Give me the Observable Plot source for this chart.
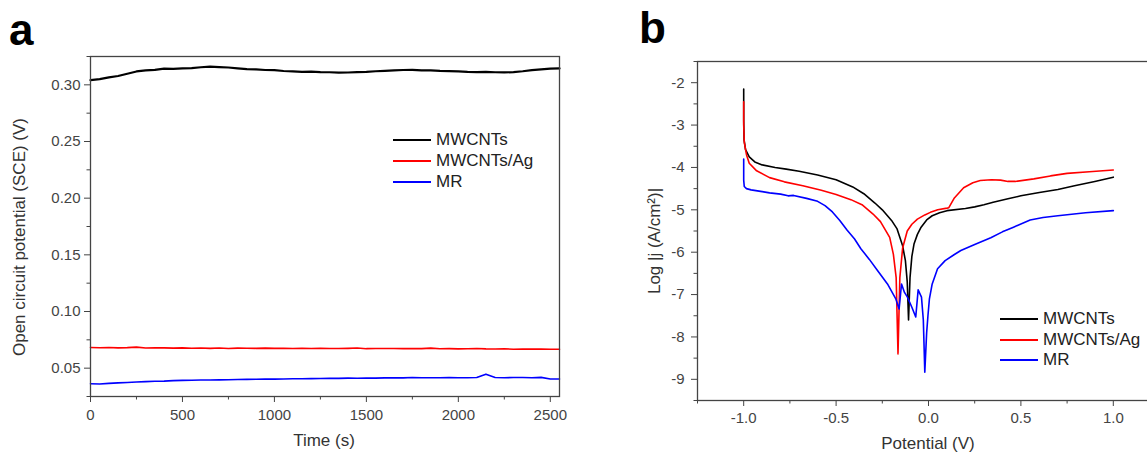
<!DOCTYPE html>
<html><head><meta charset="utf-8">
<script src="https://cdn.jsdelivr.net/npm/d3@7"></script>
<script src="https://cdn.jsdelivr.net/npm/@observablehq/plot@0.6"></script>
<style>
html,body{margin:0;padding:0;background:#fff;overflow:hidden;}
#root{position:relative;width:1147px;height:452px;overflow:hidden;font-family:"Liberation Sans",Arial,sans-serif;background:#fff;}
.panel{position:absolute;top:0;}
.plabel{position:absolute;font-weight:bold;font-size:44px;line-height:1;color:#000;}
.atitle{position:absolute;font-size:17px;line-height:1;color:#333;white-space:nowrap;}
.legend{position:absolute;font-size:17px;color:#222;}
.legend .row{position:absolute;left:0;display:flex;align-items:center;white-space:nowrap;height:20px;}
.legend .row svg{margin-right:5px;}
</style></head>
<body>
<div id="root"></div>
<script>
// ---------- Panel a: open circuit potential vs time ----------
const timeS = [0,50,100,150,200,250,300,350,400,450,500,550,600,650,700,750,800,850,900,950,1000,1050,1100,1150,1200,1250,1300,1350,1400,1450,1500,1550,1600,1650,1700,1750,1800,1850,1900,1950,2000,2050,2100,2150,2200,2250,2300,2350,2400,2450,2500,2550];
const ocpMWCNTs = [0.3042,0.3050,0.3066,0.3078,0.3098,0.3118,0.3128,0.3132,0.3143,0.3140,0.3145,0.3148,0.3155,0.3160,0.3157,0.3153,0.3146,0.3138,0.3136,0.3131,0.3129,0.3122,0.3119,0.3115,0.3117,0.3112,0.3111,0.3108,0.3109,0.3113,0.3114,0.3120,0.3124,0.3128,0.3131,0.3132,0.3128,0.3127,0.3123,0.3121,0.3119,0.3115,0.3113,0.3114,0.3111,0.3110,0.3112,0.3120,0.3130,0.3136,0.3143,0.3145];
const ocpMWCNTsAg = [0.0683,0.0680,0.0682,0.0679,0.0681,0.0686,0.0678,0.0680,0.0679,0.0677,0.0679,0.0676,0.0678,0.0675,0.0678,0.0673,0.0677,0.0676,0.0675,0.0677,0.0675,0.0676,0.0674,0.0675,0.0673,0.0675,0.0674,0.0673,0.0675,0.0678,0.0672,0.0674,0.0673,0.0674,0.0672,0.0673,0.0672,0.0677,0.0671,0.0672,0.0670,0.0671,0.0673,0.0670,0.0669,0.0671,0.0667,0.0669,0.0668,0.0668,0.0667,0.0667];
const ocpMR = [0.0362,0.0360,0.0366,0.0370,0.0374,0.0378,0.0381,0.0384,0.0386,0.0390,0.0392,0.0393,0.0395,0.0396,0.0397,0.0398,0.0400,0.0401,0.0402,0.0403,0.0403,0.0405,0.0406,0.0407,0.0408,0.0409,0.0411,0.0410,0.0412,0.0411,0.0413,0.0412,0.0414,0.0415,0.0414,0.0418,0.0415,0.0416,0.0415,0.0417,0.0416,0.0415,0.0417,0.0447,0.0418,0.0416,0.0417,0.0418,0.0416,0.0419,0.0405,0.0404];
const xTicksA = [0,500,1000,1500,2000,2500];
const xMinorA = [250,750,1250,1750,2250];
const yTicksA = [0.05,0.10,0.15,0.20,0.25,0.30];
const yMinorA = [0.025,0.075,0.125,0.175,0.225,0.275,0.325];

// ---------- Panel b: polarization curves ----------
const potMWCNTs = [-1.0,-1.0,-0.998,-0.99,-0.97,-0.94,-0.90,-0.83,-0.77,-0.70,-0.60,-0.50,-0.41,-0.35,-0.29,-0.25,-0.20,-0.17,-0.14,-0.125,-0.115,-0.108,-0.100,-0.09,-0.078,-0.06,-0.04,-0.01,0.02,0.06,0.10,0.20,0.25,0.30,0.35,0.43,0.50,0.60,0.70,0.79,0.90,1.0];
const logjMWCNTs = [-2.15,-2.9,-3.35,-3.58,-3.75,-3.87,-3.94,-4.00,-4.04,-4.09,-4.18,-4.29,-4.46,-4.62,-4.84,-5.0,-5.25,-5.45,-5.85,-6.2,-6.7,-7.6,-6.6,-6.1,-5.8,-5.58,-5.41,-5.24,-5.14,-5.07,-5.02,-4.97,-4.93,-4.88,-4.82,-4.74,-4.67,-4.59,-4.52,-4.43,-4.33,-4.23];
const potMWCNTsAg = [-1.0,-1.0,-0.997,-0.985,-0.97,-0.93,-0.86,-0.78,-0.68,-0.58,-0.50,-0.42,-0.36,-0.30,-0.26,-0.21,-0.19,-0.175,-0.165,-0.155,-0.14,-0.115,-0.09,-0.06,-0.02,0.01,0.05,0.10,0.11,0.14,0.19,0.24,0.28,0.34,0.39,0.43,0.47,0.57,0.66,0.75,0.87,1.0];
const logjMWCNTsAg = [-2.45,-3.0,-3.4,-3.7,-3.9,-4.08,-4.24,-4.34,-4.43,-4.54,-4.64,-4.76,-4.88,-5.10,-5.28,-5.65,-6.05,-6.6,-8.4,-6.6,-5.9,-5.5,-5.34,-5.22,-5.12,-5.06,-5.0,-4.96,-4.95,-4.72,-4.48,-4.36,-4.31,-4.29,-4.30,-4.33,-4.33,-4.27,-4.20,-4.14,-4.10,-4.06];
const potMR = [-1.0,-1.0,-0.997,-0.985,-0.96,-0.90,-0.86,-0.80,-0.76,-0.73,-0.66,-0.60,-0.56,-0.52,-0.48,-0.44,-0.40,-0.366,-0.32,-0.276,-0.222,-0.177,-0.159,-0.146,-0.13,-0.114,-0.09,-0.069,-0.056,-0.038,-0.028,-0.02,-0.01,-0.003,0.005,0.02,0.049,0.09,0.138,0.175,0.25,0.337,0.40,0.46,0.55,0.62,0.70,0.85,1.0];
const logjMR = [-3.8,-4.3,-4.45,-4.5,-4.53,-4.57,-4.60,-4.63,-4.67,-4.66,-4.73,-4.80,-4.90,-5.05,-5.25,-5.48,-5.69,-5.92,-6.17,-6.43,-6.75,-7.10,-7.34,-6.75,-6.95,-7.06,-7.3,-7.53,-6.89,-7.06,-7.6,-8.83,-7.9,-7.5,-7.1,-6.75,-6.39,-6.2,-6.06,-5.96,-5.82,-5.66,-5.52,-5.41,-5.24,-5.18,-5.14,-5.07,-5.02];
const xTicksB = [-1.0,-0.5,0.0,0.5,1.0];
const xMinorB = [-1.25,-0.75,-0.25,0.25,0.75,1.25];
const yTicksB = [-9,-8,-7,-6,-5,-4,-3,-2];
const yMinorB = [-9.5,-8.5,-7.5,-6.5,-5.5,-4.5,-3.5,-2.5,-1.5];

const seriesNames = ["MWCNTs","MWCNTs/Ag","MR"];
const seriesColors = ["#000000","#ff0000","#0000ff"];
const titlesA = {x: "Time (s)", y: "Open circuit potential (SCE) (V)"};
const titlesB = {x: "Potential (V)", y: "Log |j (A/cm²)|"};

const FONT = '"Liberation Sans", Arial, sans-serif';
const AX = "#444";

const root = document.getElementById("root");

function rowsOf(xs, ys) { return xs.map((x, i) => ({x, y: ys[i]})); }

// ---- Panel a ----
const aSeries = [ocpMWCNTs, ocpMWCNTsAg, ocpMR];
const plotA = Plot.plot({
  width: 580, height: 452,
  marginLeft: 90, marginRight: 21, marginTop: 56, marginBottom: 56,
  style: {fontFamily: FONT, fontSize: "15px", color: AX, background: "transparent"},
  x: {domain: [0, 2550]},
  y: {domain: [0.025, 0.325]},
  marks: [
    Plot.axisX(xMinorA, {tickSize: 3.5, tickFormat: () => "", label: null, stroke: AX}),
    Plot.axisY(yMinorA, {tickSize: 3.5, tickFormat: () => "", label: null, stroke: AX}),
    Plot.axisX(xTicksA, {tickSize: 6, tickPadding: 7, tickFormat: d => String(d), stroke: AX, fill: AX, label: null, fontSize: 15}),
    Plot.axisY(yTicksA, {tickSize: 6, tickPadding: 4, tickFormat: d => d.toFixed(2), stroke: AX, fill: AX, label: null, fontSize: 15}),
    ...aSeries.map((s, i) => Plot.line(rowsOf(timeS, s), {x: "x", y: "y", stroke: seriesColors[i], strokeWidth: i === 0 ? 2.2 : 1.6})),
    Plot.frame({stroke: AX, strokeWidth: 1.3})
  ]
});
plotA.classList.add("panel");
plotA.style.left = "0px";
root.appendChild(plotA);

// ---- Panel b ----
const bX = [potMWCNTs, potMWCNTsAg, potMR];
const bY = [logjMWCNTs, logjMWCNTsAg, logjMR];
const plotB = Plot.plot({
  width: 590, height: 452,
  marginLeft: 117, marginRight: 11, marginTop: 61, marginBottom: 52,
  style: {fontFamily: FONT, fontSize: "15px", color: AX, background: "transparent"},
  x: {domain: [-1.25, 1.25]},
  y: {domain: [-9.5, -1.5]},
  marks: [
    Plot.axisX(xMinorB, {tickSize: 3.5, tickFormat: () => "", label: null, stroke: AX}),
    Plot.axisY(yMinorB, {tickSize: 3.5, tickFormat: () => "", label: null, stroke: AX}),
    Plot.axisX(xTicksB, {tickSize: 6, tickPadding: 6, tickFormat: d => d.toFixed(1), stroke: AX, fill: AX, label: null, fontSize: 15}),
    Plot.axisY(yTicksB, {tickSize: 6, tickPadding: 7, tickFormat: d => String(d), stroke: AX, fill: AX, label: null, fontSize: 15}),
    ...bX.map((xs, i) => Plot.line(rowsOf(xs, bY[i]), {x: "x", y: "y", stroke: seriesColors[i], strokeWidth: 1.6})),
    Plot.frame({stroke: AX, strokeWidth: 1.3})
  ]
});
plotB.classList.add("panel");
plotB.style.left = "580px";
root.appendChild(plotB);

// ---- axis titles ----
function addTitle(txt, cx, cy, rotate) {
  const d = document.createElement("div");
  d.className = "atitle"; d.textContent = txt;
  d.style.left = cx + "px"; d.style.top = cy + "px";
  d.style.transform = "translate(-50%,-50%)" + (rotate ? " rotate(-90deg)" : "");
  root.appendChild(d);
}
addTitle(titlesA.x, 324, 440, false);
addTitle(titlesA.y, 19, 237, true);
addTitle(titlesB.x, 928, 443, false);
addTitle(titlesB.y, 654, 241, true);

// ---- panel letters ----
function addLabel(txt, left, top) {
  const d = document.createElement("div");
  d.className = "plabel"; d.textContent = txt;
  d.style.left = left + "px"; d.style.top = top + "px";
  root.appendChild(d);
}
addLabel("a", 9, 8);
addLabel("b", 639, 6);

// ---- legends ----
function addLegend(left, top, gap) {
  const lg = document.createElement("div");
  lg.className = "legend";
  lg.style.left = left + "px"; lg.style.top = top + "px";
  seriesNames.forEach((name, i) => {
    const r = document.createElement("div");
    r.className = "row";
    r.style.top = (i * gap) + "px";
    r.innerHTML = `<svg width="38" height="4"><line x1="0" y1="2" x2="38" y2="2" stroke="${seriesColors[i]}" stroke-width="2"/></svg><span>${name}</span>`;
    lg.appendChild(r);
  });
  root.appendChild(lg);
}
addLegend(393, 130, 21);
addLegend(1000, 309, 20.5);
</script>
</body></html>
